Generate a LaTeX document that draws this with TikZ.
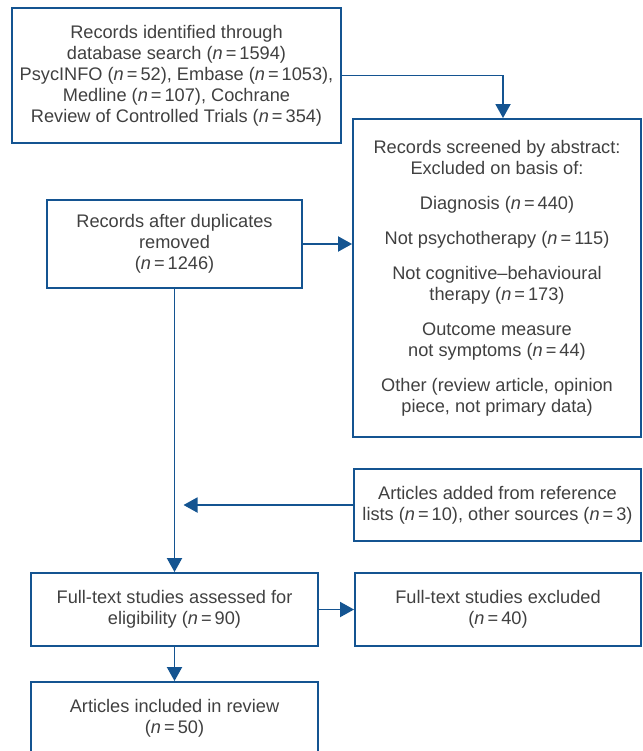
\documentclass[tikz,border=0pt]{standalone}
\usepackage{fontspec}
\setmainfont{Liberation Sans}
\usetikzlibrary{arrows.meta,positioning}
\definecolor{flowblue}{RGB}{20,84,145}
\definecolor{flowtext}{RGB}{64,64,64}
\newcommand{\nn}[1]{(\textit{n}\,=\,#1)}

\begin{document}
\begin{tikzpicture}[x=1pt,y=-1pt,
  box/.style={draw=flowblue,line width=1.9pt,inner sep=0pt,align=center,
    text=flowtext,font=\fontsize{18.2}{21}\selectfont},
  arr/.style={draw=flowblue,line width=1.9pt,-{Triangle[length=14pt,width=15pt]}}]

\useasboundingbox (0,0) rectangle (642,751);
\clip (0,0) rectangle (642,751);

\node [box,minimum width=329pt,minimum height=135pt] (ident) at (176.5,75.5)
  {Records identified through\\ database search \nn{1594}\\
   PsycINFO \nn{52}, Embase \nn{1053},\\ Medline \nn{107}, Cochrane\\
   Review of Controlled Trials \nn{354}};

\node [box,minimum width=288pt,minimum height=318pt] (screen) at (497,278)
  {Records screened by abstract:\\ Excluded on basis of:\\[14pt]
   Diagnosis \nn{440}\\[14pt]
   Not psychotherapy \nn{115}\\[14pt]
   Not cognitive--behavioural\\ therapy \nn{173}\\[14pt]
   Outcome measure\\ not symptoms \nn{44}\\[14pt]
   Other (review article, opinion\\ piece, not primary data)};

\node [box,minimum width=255pt,minimum height=88pt] (dup) at (174.5,244)
  {Records after duplicates\\ removed\\ \nn{1246}};

\node [box,minimum width=287pt,minimum height=72pt] (added) at (497.5,505)
  {Articles added from reference\\ lists \nn{10}, other sources \nn{3}};

\node [box,minimum width=287pt,minimum height=73pt] (full) at (174.5,609.5)
  {Full-text studies assessed for\\ eligibility \nn{90}};

\node [box,minimum width=286pt,minimum height=73pt] (excl) at (498,609.5)
  {Full-text studies excluded\\ \nn{40}};

\node [box,minimum width=287pt,minimum height=73pt] (incl) at (174.5,718.5)
  {Articles included in review\\ \nn{50}};

\draw [arr] (ident.east) -| ([xshift=6pt]screen.north);
\draw [arr] (dup.east) -- (screen.west |- dup.east);
\draw [arr] (dup.south) -- (full.north);
\draw [arr] (added.west) -- ([xshift=9pt]dup.south |- added.west);
\draw [arr] (full.east) -- (excl.west);
\draw [arr] (full.south) -- (incl.north);

\end{tikzpicture}
\end{document}
